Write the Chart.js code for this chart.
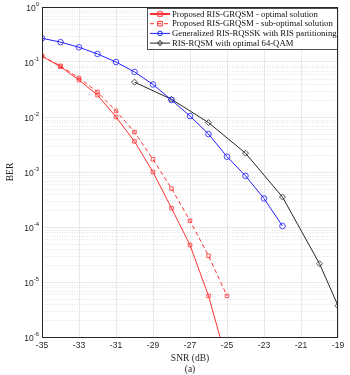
<!DOCTYPE html>
<html>
<head>
<meta charset="utf-8">
<script src="https://cdn.jsdelivr.net/npm/chart.js@4.4.0/dist/chart.umd.min.js"></script>
<style>
  html, body { margin: 0; padding: 0; background: #fff; }
  #wrap { width: 350px; height: 375px; }
</style>
</head>
<body>
<div id="wrap"><canvas id="grafico" width="350" height="375"></canvas></div>
<script>
// valores
const snrOtimo = [-35, -34, -33, -32, -31, -30, -29, -28, -27, -26, -25];
const berOtimo = [0.128, 0.082, 0.047, 0.025, 0.010, 0.0036, 0.001, 2.2e-4, 4.7e-5, 5.6e-6, 3.5e-7];
const snrSubOtimo = [-35, -34, -33, -32, -31, -30, -29, -28, -27, -26, -25];
const berSubOtimo = [0.128, 0.085, 0.051, 0.0285, 0.0129, 0.0053, 0.0017, 5.0e-4, 1.3e-4, 3.0e-5, 5.6e-6];
const snrRqssk = [-35, -34, -33, -32, -31, -30, -29, -28, -27, -26, -25, -24, -23, -22];
const berRqssk = [0.27, 0.23, 0.185, 0.14, 0.1, 0.066, 0.039, 0.0204, 0.0104, 0.0049, 0.0019, 8.5e-4, 3.3e-4, 1.04e-4];
const snrQam = [-30, -28, -26, -24, -22, -20, -19];
const berQam = [0.043, 0.021, 0.0079, 0.0022, 3.5e-4, 2.15e-5, 3.7e-6];
const rotulos = [
    'Proposed RIS-GRQSM - optimal solution',
    'Proposed RIS-GRQSM - sub-optimal solution',
    'Generalized RIS-RQSSK with RIS partitioning',
    'RIS-RQSM with optimal 64-QAM'
];
const decadas = [1e-6, 1e-5, 1e-4, 1e-3, 1e-2, 1e-1, 1];

const serif = '"Liberation Serif", "DejaVu Serif", serif';
const sans = '"Liberation Sans", Arial, sans-serif';

function pontos(xs, ys) {
    return xs.map((x, i) => ({ x: x, y: ys[i] }));
}

// grade menor pontilhada, moldura, rótulos do eixo y e legenda
const extras = {
    id: 'extras',
    beforeDatasetsDraw(chart) {
        const c = chart.ctx, a = chart.chartArea, y = chart.scales.y;
        c.save();
        c.strokeStyle = '#d4d4d4';
        c.lineWidth = 0.6;
        c.setLineDash([1, 1.5]);
        for (let d = 0; d < decadas.length - 1; d++) {
            for (let m = 2; m <= 9; m++) {
                const py = Math.round(y.getPixelForValue(decadas[d] * m)) + 0.5;
                c.beginPath();
                c.moveTo(a.left, py);
                c.lineTo(a.right, py);
                c.stroke();
            }
        }
        c.restore();
    },
    afterDraw(chart) {
        const c = chart.ctx, a = chart.chartArea, y = chart.scales.y;
        c.save();
        c.strokeStyle = '#262626';
        c.lineWidth = 1;
        c.strokeRect(a.left + 0.5, a.top + 0.5, a.right - a.left - 1, a.bottom - a.top);

        // rótulos 10^n
        c.fillStyle = '#262626';
        c.textBaseline = 'alphabetic';
        decadas.forEach(v => {
            const py = y.getPixelForValue(v);
            const exp = String(Math.round(Math.log10(v)));
            c.font = '6px ' + sans;
            const we = c.measureText(exp).width;
            c.textAlign = 'right';
            c.fillText(exp, a.left - 3, py - 1);
            c.font = '8.5px ' + sans;
            c.fillText('10', a.left - 3 - we, py + 3.5);
        });

        // legenda
        const lx = 147, ly = 8, lw = 190, lh = 41;
        c.fillStyle = '#fff';
        c.fillRect(lx, ly, lw, lh);
        c.strokeStyle = '#262626';
        c.lineWidth = 0.8;
        c.strokeRect(lx + 0.5, ly + 0.5, lw, lh);
        chart.data.datasets.forEach((ds, i) => {
            const ry = ly + 6 + i * 9.7;
            c.strokeStyle = ds.borderColor;
            c.lineWidth = i === 0 ? 2 : 1;
            c.setLineDash(ds.borderDash || []);
            c.beginPath();
            c.moveTo(lx + 3, ry);
            c.lineTo(lx + 23, ry);
            c.stroke();
            c.setLineDash([]);
            c.lineWidth = 1;
            const r = 2.3;
            c.beginPath();
            if (ds.pointStyle === 'rect') {
                c.rect(lx + 13 - r, ry - r, 2 * r, 2 * r);
            } else if (ds.pointStyle === 'rectRot') {
                c.moveTo(lx + 13, ry - r - 0.5);
                c.lineTo(lx + 13 + r, ry);
                c.lineTo(lx + 13, ry + r + 0.5);
                c.lineTo(lx + 13 - r, ry);
                c.closePath();
            } else {
                c.arc(lx + 13, ry, r, 0, Math.PI * 2);
            }
            c.stroke();
            c.fillStyle = '#111';
            c.font = '8.7px ' + serif;
            c.textAlign = 'left';
            c.textBaseline = 'middle';
            c.fillText(ds.label, lx + 25, ry + 0.5);
        });
        c.restore();
    }
};

const ctx = document.getElementById('grafico').getContext('2d');
const grafico = new Chart(ctx, {
    type: 'line',
    data: {
        datasets: [
            {
                label: rotulos[0],
                data: pontos(snrOtimo, berOtimo),
                borderColor: '#ff3030',
                borderWidth: 1,
                pointStyle: 'rect',
                pointRadius: 2.5,
                pointBorderWidth: 0.8,
                pointBackgroundColor: 'transparent'
            },
            {
                label: rotulos[1],
                data: pontos(snrSubOtimo, berSubOtimo),
                borderColor: '#ff3030',
                borderWidth: 1,
                borderDash: [4, 3],
                pointStyle: 'rect',
                pointRadius: 2.5,
                pointBorderWidth: 0.8,
                pointBackgroundColor: 'transparent'
            },
            {
                label: rotulos[2],
                data: pontos(snrRqssk, berRqssk),
                borderColor: '#2020ff',
                borderWidth: 1,
                pointStyle: 'circle',
                pointRadius: 2.8,
                pointBorderWidth: 0.8,
                pointBackgroundColor: 'transparent'
            },
            {
                label: rotulos[3],
                data: pontos(snrQam, berQam),
                borderColor: '#262626',
                borderWidth: 1,
                pointStyle: 'rectRot',
                pointRadius: 3,
                pointBorderWidth: 0.8,
                pointBackgroundColor: 'transparent'
            }
        ]
    },
    options: {
        responsive: false,
        animation: false,
        devicePixelRatio: 1,
        layout: { padding: { top: 7, right: 12, left: 0, bottom: 0 } },
        plugins: {
            legend: { display: false },
            tooltip: { enabled: false }
        },
        scales: {
            x: {
                type: 'linear',
                min: -35,
                max: -19,
                ticks: {
                    stepSize: 2,
                    color: '#262626',
                    font: { family: sans, size: 8.5 },
                    padding: 4,
                    maxRotation: 0
                },
                grid: { color: '#e3e3e3', lineWidth: 0.8, drawTicks: false },
                border: { display: false },
                title: {
                    display: true,
                    text: ['SNR (dB)', '(a)'],
                    color: '#262626',
                    font: { family: serif, size: 9.5, lineHeight: 1.15 },
                    padding: { top: 1, bottom: 0 }
                },
                afterFit(scale) { scale.height = 38; }
            },
            y: {
                type: 'logarithmic',
                min: 1e-6,
                max: 1,
                afterBuildTicks(scale) {
                    scale.ticks = decadas.map(v => ({ value: v }));
                },
                ticks: { display: false },
                grid: { color: '#e3e3e3', lineWidth: 0.8, drawTicks: false },
                border: { display: false },
                title: {
                    display: true,
                    text: 'BER',
                    color: '#262626',
                    font: { family: serif, size: 9.5 },
                    padding: { top: 5, bottom: 0 }
                },
                afterFit(scale) { scale.width = 42; }
            }
        }
    },
    plugins: [extras]
});
</script>
</body>
</html>
